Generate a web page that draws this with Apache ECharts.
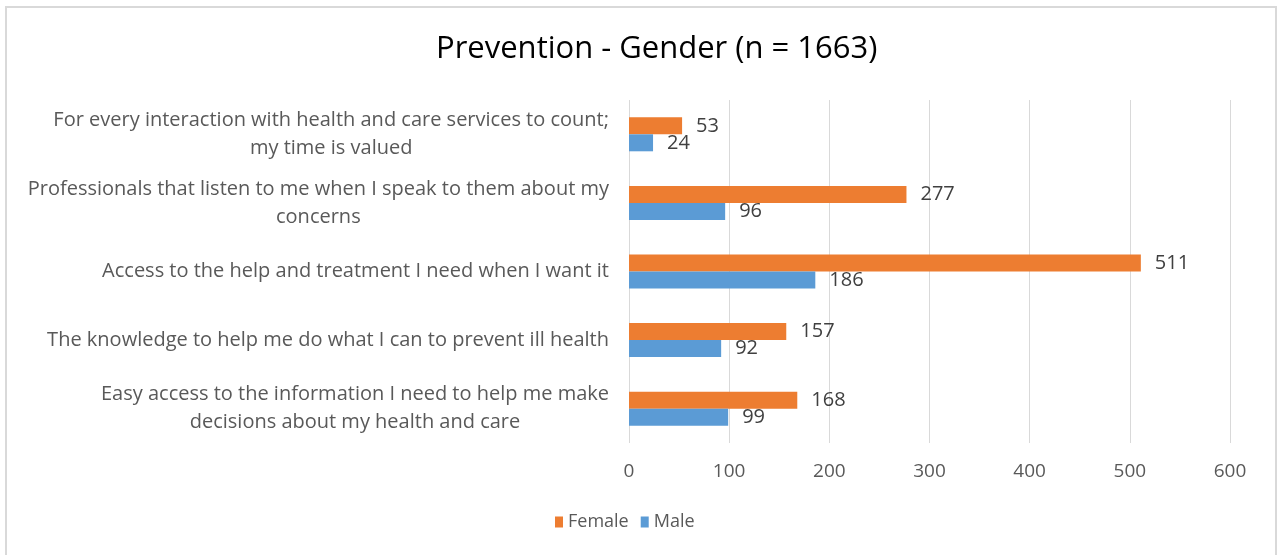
<!DOCTYPE html>
<html>
<head>
<meta charset="utf-8">
<title>Prevention - Gender</title>
<script src="https://cdn.jsdelivr.net/npm/echarts@6/dist/echarts.min.js"></script>
<style>
  html, body { margin: 0; padding: 0; background: #fff; overflow: hidden; }
  #frame {
    position: absolute; left: 5px; top: 6px;
    width: 1268px; height: 560px;
    border: 2px solid #d9d9d9; background: #fff;
  }
  #chart { position: absolute; left: -7px; top: -8px; width: 1282px; height: 555px; }
</style>
</head>
<body>
<div id="frame"><div id="chart"></div></div>
<script>
// categories top to bottom (two-line labels split where the original wraps)
var categories = [
  'For every interaction with health and care services to count;\nmy time is valued',
  'Professionals that listen to me when I speak to them about my\nconcerns',
  'Access to the help and treatment I need when I want it',
  'The knowledge to help me do what I can to prevent ill health',
  'Easy access to the information I need to help me make\ndecisions about my health and care'
]
var femaleValues = [53, 277, 511, 157, 168]
var maleValues = [24, 96, 186, 92, 99]
var xTicks = { min: 0, max: 600, interval: 100 }

var font = '"Open Sans", "Liberation Sans", sans-serif'

var chart = echarts.init(document.getElementById('chart'))

function valueLabel() {
  return {
    show: true,
    position: 'right',
    distance: 14,
    fontSize: 20,
    fontFamily: font,
    color: '#404040'
  }
}

chart.setOption({
  animation: false,
  textStyle: { fontFamily: font },
  title: {
    text: 'Prevention - Gender (n = 1663)',
    left: 431,
    top: 29,
    textStyle: { fontSize: 31, fontWeight: 'normal', color: '#000', fontFamily: font }
  },
  legend: {
    data: ['Female', 'Male'],
    bottom: 19,
    left: 550,
    icon: 'rect',
    itemWidth: 8,
    itemHeight: 11,
    itemGap: 12,
    textStyle: { fontSize: 18, color: '#595959', fontFamily: font }
  },
  grid: {
    left: 629,
    right: 52,
    top: 100,
    bottom: 112,
    containLabel: false
  },
  xAxis: {
    type: 'value',
    min: xTicks.min,
    max: xTicks.max,
    interval: xTicks.interval,
    axisLine: { show: false },
    axisTick: { show: false },
    splitLine: { lineStyle: { color: '#d9d9d9', width: 1 } },
    axisLabel: { fontSize: 19, color: '#595959', margin: 19, fontFamily: font }
  },
  yAxis: {
    type: 'category',
    inverse: true,
    data: categories,
    axisLine: { show: false },
    axisTick: { show: false },
    axisLabel: {
      margin: 20,
      align: 'right',
      formatter: function (value) {
        return value.split('\n').map(function (s) { return '{c|' + s + '}' }).join('\n')
      },
      rich: {
        c: { align: 'center', fontSize: 20, lineHeight: 28, color: '#595959', fontFamily: font }
      }
    }
  },
  series: [
    {
      name: 'Female',
      type: 'bar',
      data: femaleValues,
      barWidth: 17,
      barGap: '0%',
      itemStyle: { color: '#ed7d31' },
      label: valueLabel()
    },
    {
      name: 'Male',
      type: 'bar',
      data: maleValues,
      barWidth: 17,
      barGap: '0%',
      itemStyle: { color: '#5b9bd5' },
      label: valueLabel()
    }
  ]
})
</script>
</body>
</html>
